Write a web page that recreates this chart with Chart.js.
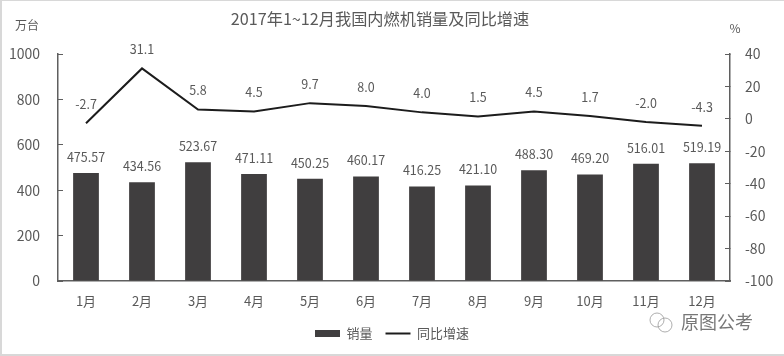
<!DOCTYPE html>
<html lang="zh-CN">
<head>
<meta charset="utf-8">
<title>2017年1~12月我国内燃机销量及同比增速</title>
<script src="https://cdn.jsdelivr.net/npm/chart.js@4/dist/chart.umd.min.js"></script>
<style>
  html, body { margin: 0; padding: 0; background: #fff; overflow: hidden; }
  #wrap { position: relative; width: 784px; height: 356px; }
  #wrap canvas { position: absolute; left: 0; top: 0; }
  /* Grey screenshot edge of the original picture */
  #frame {
    position: absolute; left: 0; top: 0; width: 782px; height: 353px;
    border-left: 2px solid #d8d8d8;
    border-top: 1px solid #d8d8d8;
    border-bottom: 2px solid #d8d8d8;
    pointer-events: none;
  }
</style>
</head>
<body>
<div id="wrap">
  <canvas id="engineChart" width="784" height="356"></canvas>
  <div id="frame"></div>
</div>
<script>
'use strict';

const months = ['1月', '2月', '3月', '4月', '5月', '6月', '7月', '8月', '9月', '10月', '11月', '12月'];
const salesValues = [475.57, 434.56, 523.67, 471.11, 450.25, 460.17, 416.25, 421.10, 488.30, 469.20, 516.01, 519.19];
const growthValues = [-2.7, 31.1, 5.8, 4.5, 9.7, 8.0, 4.0, 1.5, 4.5, 1.7, -2.0, -4.3];

const titleText = '2017年1~12月我国内燃机销量及同比增速';
const salesName = '销量';
const growthName = '同比增速';
const leftUnit = '万台';
const rightUnit = '%';
const watermark = '原图公考';

const FONT = '"Noto Sans CJK SC", "Noto Sans", sans-serif';
const TEXT = '#595959';
const BAR = '#403e3f';
const LINE = '#1c1c1c';
const AXIS = '#5f5f5f';

// Value labels above the bars and line points, plus the loose texts.
const annotations = {
  id: 'annotations',
  afterDatasetsDraw(chart) {
    const ctx = chart.ctx;
    ctx.save();
    ctx.fillStyle = TEXT;
    ctx.textAlign = 'center';
    ctx.textBaseline = 'middle';

    ctx.font = '12.5px ' + FONT;
    chart.getDatasetMeta(0).data.forEach(function (bar, i) {
      ctx.fillText(salesValues[i].toFixed(2), bar.x, bar.y - 16);
    });
    chart.getDatasetMeta(1).data.forEach(function (point, i) {
      ctx.fillText(growthValues[i].toFixed(1), point.x, point.y - 19);
    });

    ctx.font = '16.2px ' + FONT;
    ctx.fillText(titleText, 380, 19);

    ctx.font = '12px ' + FONT;
    ctx.fillText(leftUnit, 27, 25);
    ctx.fillText(rightUnit, 735, 28);

    ctx.font = '18px ' + FONT;
    ctx.fillStyle = '#777';
    ctx.textAlign = 'left';
    ctx.fillText(watermark, 681, 322);

    // Small chat-bubble mark of the watermark
    ctx.strokeStyle = '#999';
    ctx.lineWidth = 0.8;
    ctx.beginPath();
    ctx.arc(657, 320, 7, 0, Math.PI * 2);
    ctx.stroke();
    ctx.beginPath();
    ctx.arc(665, 325, 7, 0, Math.PI * 2);
    ctx.stroke();
    ctx.restore();
  },
};

new Chart(document.getElementById('engineChart'), {
  data: {
    labels: months,
    datasets: [
      {
        type: 'bar',
        label: salesName,
        data: salesValues,
        yAxisID: 'ySales',
        backgroundColor: BAR,
        borderWidth: 0,
        barPercentage: 0.46,
        categoryPercentage: 1,
        order: 2,
      },
      {
        type: 'line',
        label: growthName,
        data: growthValues,
        yAxisID: 'yGrowth',
        borderColor: LINE,
        borderWidth: 2,
        pointRadius: 0,
        tension: 0,
        order: 1,
      },
    ],
  },
  options: {
    responsive: false,
    animation: false,
    layout: { padding: { top: 54, bottom: 6 } },
    plugins: {
      title: { display: false },
      tooltip: { enabled: false },
      legend: {
        position: 'bottom',
        labels: {
          color: TEXT,
          font: { family: FONT, size: 13 },
          usePointStyle: true,
          pointStyleWidth: 25,
          boxHeight: 7,
          padding: 13,
          sort(a, b) { return a.datasetIndex - b.datasetIndex; },
          generateLabels(chart) {
            return Chart.defaults.plugins.legend.labels.generateLabels(chart).map(function (item) {
              const isBar = item.datasetIndex === 0;
              item.pointStyle = isBar ? 'rect' : 'line';
              item.strokeStyle = isBar ? BAR : LINE;
              item.fillStyle = isBar ? BAR : LINE;
              item.lineWidth = isBar ? 0 : 2;
              return item;
            });
          },
        },
      },
    },
    scales: {
      x: {
        grid: { display: false },
        border: { color: AXIS, width: 1.5 },
        ticks: {
          color: TEXT,
          font: { family: FONT, size: 13 },
          padding: 4,
          maxRotation: 0,
        },
        afterFit(scale) { scale.height = 33; },
      },
      ySales: {
        position: 'left',
        min: 0,
        max: 1000,
        grid: { drawOnChartArea: false, tickLength: -5, color: AXIS },
        border: { color: AXIS, width: 1.5 },
        ticks: {
          stepSize: 200,
          color: TEXT,
          font: { family: FONT, size: 14 },
          padding: 23,
          callback(value) { return String(value); },
        },
        afterFit(scale) { scale.width = 58; },
      },
      yGrowth: {
        position: 'right',
        min: -100,
        max: 40,
        grid: { drawOnChartArea: false, tickLength: -5, color: AXIS },
        border: { color: AXIS, width: 1.5 },
        ticks: {
          stepSize: 20,
          color: TEXT,
          font: { family: FONT, size: 14 },
          padding: 20,
        },
        afterFit(scale) { scale.width = 54; },
      },
    },
  },
  plugins: [annotations],
});
</script>
</body>
</html>
